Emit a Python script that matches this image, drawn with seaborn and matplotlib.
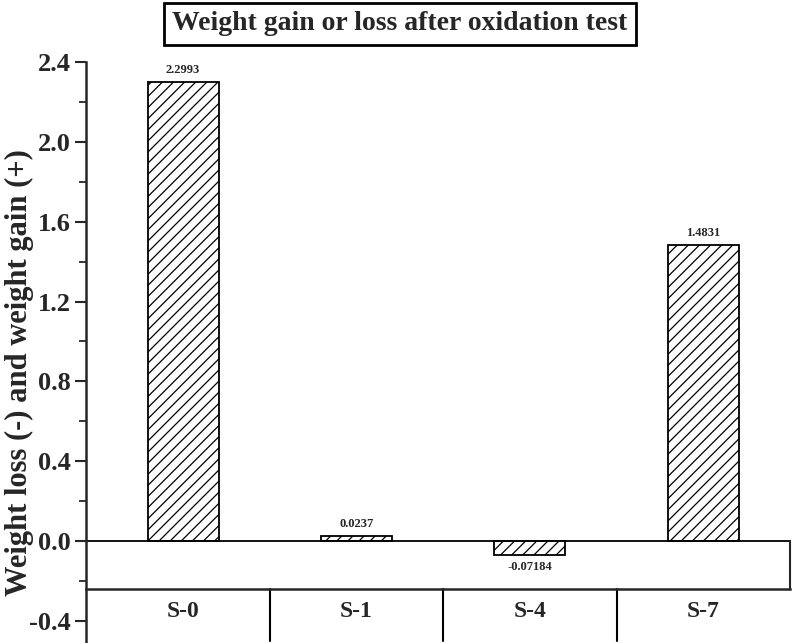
import numpy as np
import pandas as pd
import matplotlib
matplotlib.use('Agg')
import matplotlib.pyplot as plt
import seaborn as sns

# data
samples = ['S-0', 'S-1', 'S-4', 'S-7']
weight_change = [2.2993, 0.0237, -0.07184, 1.4831]
value_labels = ['2.2993', '0.0237', '-0.07184', '1.4831']

df = pd.DataFrame({'Sample': samples, 'Change': weight_change})

sns.set_style('ticks')
plt.rcParams['font.family'] = ['Liberation Serif', 'DejaVu Serif']
plt.rcParams['font.weight'] = 'bold'
plt.rcParams['hatch.color'] = '#555555'
plt.rcParams['hatch.linewidth'] = 0.9

fig = plt.figure(figsize=(7.93, 6.43), dpi=100)
ax = fig.add_axes([86 / 793, 0, (790 - 86) / 793, (643 - 62) / 643])

sns.barplot(data=df, x='Sample', y='Change', color='white', width=0.41,
            edgecolor='black', linewidth=1.3, ax=ax)
for p in ax.patches:
    p.set_hatch('///')
    p.set_facecolor('white')

ax.set_ylim(-0.511, 2.4)
ax.set_xlim(-0.56, 3.5)

# value labels
for i, (v, lab) in enumerate(zip(weight_change, value_labels)):
    if v >= 0:
        ax.text(i, v + 0.03, lab, ha='center', va='bottom', fontsize=9, fontweight='bold')
    else:
        ax.text(i, v - 0.03, lab, ha='center', va='top', fontsize=9, fontweight='bold')

# zero line and axis line
axis_y = -0.24
ax.axhline(0, color='black', lw=1.3)
ax.spines['bottom'].set_position(('data', axis_y))
ax.spines['bottom'].set_linewidth(1.8)
ax.spines['top'].set_visible(False)
ax.spines['right'].set_bounds(axis_y, 0)
ax.spines['right'].set_linewidth(1.5)
ax.spines['left'].set_linewidth(1.8)
for xs in [0.5, 1.5, 2.5]:
    ax.plot([xs, xs], [axis_y, -0.5], color='black', lw=1.5, clip_on=False)

ax.tick_params(axis='x', length=0, pad=9, labelsize=17)
for t in ax.get_xticklabels():
    t.set_fontweight('bold')

ax.set_yticks(np.arange(-0.4, 2.41, 0.4))
ax.set_yticks(np.arange(-0.4, 2.41, 0.2), minor=True)
ax.set_yticklabels([f'{v:.1f}' for v in np.arange(-0.4, 2.41, 0.4)], fontsize=19, fontweight='bold')
ax.tick_params(axis='y', which='major', direction='out', length=8, width=1.5, pad=3)
ax.tick_params(axis='y', which='minor', direction='out', length=5, width=1.3)
ax.tick_params(axis='y', which='both', right=False)

ax.set_xlabel('')
ax.set_ylabel('Weight loss (-) and weight gain (+)', fontsize=22, fontweight='bold')
ax.yaxis.set_label_coords(-0.0745, 0.466)

fig.text(400 / 793, 1 - 24 / 643, 'Weight gain or loss after oxidation test', ha='center', va='center',
         fontsize=20, fontweight='bold',
         bbox=dict(boxstyle='square,pad=0.3', facecolor='white', edgecolor='black', linewidth=2))

fig.savefig('out.png', dpi=100)
